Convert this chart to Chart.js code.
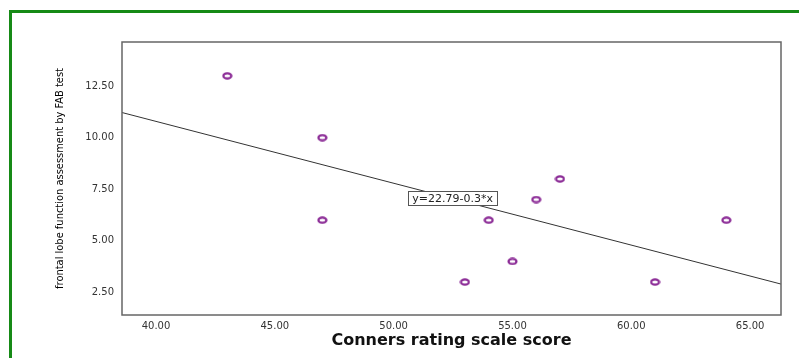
<!DOCTYPE html>
<html>
<head>
<meta charset="utf-8">
<script src="https://cdn.jsdelivr.net/npm/chart.js@4/dist/chart.umd.min.js"></script>
<style>
  html, body { margin: 0; padding: 0; background: #fff; }
  #wrap { position: relative; width: 799px; height: 358px; overflow: hidden; }
  #frame { position: absolute; left: 9px; top: 10px; width: 820px; height: 400px; border: 3px solid #168a16; }
  canvas { position: absolute; left: 0; top: 0; }
</style>
</head>
<body>
<div id="wrap">
  <div id="frame"></div>
  <canvas id="plot" width="799" height="358"></canvas>
</div>
<script>
// Conners score vs FAB score
const connersScore = [43, 47, 47, 53, 54, 55, 56, 57, 61, 64]
const fabScore = [13, 10, 6, 3, 6, 4, 7, 8, 3, 6]
const yTicks = [2.5, 5, 7.5, 10, 12.5]
const xTicks = [40, 45, 50, 55, 60, 65]
const fitIntercept = 22.79
const fitSlope = -0.3
const fitLabel = 'y=22.79-0.3*x'
const xMin = 38.57, xMax = 66.3
const yMin = 1.4, yMax = 14.64

const points = connersScore.map((x, i) => ({ x: x, y: fabScore[i] }))
const fitLine = [xMin, xMax].map(x => ({ x: x, y: fitIntercept + fitSlope * x }))

// flat ring marker like the SPSS one
const ring = document.createElement('canvas')
ring.width = 11
ring.height = 8
const rc = ring.getContext('2d')
rc.strokeStyle = '#8b2b96'
rc.lineWidth = 2.2
rc.beginPath()
rc.ellipse(5.5, 4, 4, 2.6, 0, 0, Math.PI * 2)
rc.stroke()

// draws the equation box and the plot frame
const extras = {
    id: 'extras',
    afterDatasetsDraw(chart) {
        const c = chart.ctx
        const a = chart.chartArea
        const xs = chart.scales.x, ys = chart.scales.y
        c.save()
        c.strokeStyle = '#666'
        c.lineWidth = 1.5
        c.strokeRect(a.left, a.top, a.right - a.left, a.bottom - a.top)

        const px = xs.getPixelForValue(52.46)
        const py = ys.getPixelForValue(7.06)
        c.font = '11px "DejaVu Sans", sans-serif'
        const w = c.measureText(fitLabel).width + 8
        c.fillStyle = '#fff'
        c.fillRect(px - w / 2, py - 7, w, 14)
        c.strokeStyle = '#555'
        c.lineWidth = 1
        c.strokeRect(Math.round(px - w / 2) + 0.5, Math.round(py - 7) + 0.5, Math.round(w), 14)
        c.fillStyle = '#222'
        c.textAlign = 'center'
        c.textBaseline = 'middle'
        c.fillText(fitLabel, px + 0.5, py + 0.5)
        c.restore()
    }
}

new Chart(document.getElementById('plot'), {
    type: 'scatter',
    data: {
        datasets: [
            {
                type: 'line',
                data: fitLine,
                borderColor: '#333',
                borderWidth: 1,
                pointRadius: 0,
                fill: false,
                order: 2
            },
            {
                data: points,
                pointStyle: ring,
                pointRadius: 4,
                order: 1
            }
        ]
    },
    options: {
        responsive: false,
        animation: false,
        layout: { padding: { top: 42, right: 18, left: 0, bottom: 0 } },
        plugins: { legend: { display: false }, tooltip: { enabled: false } },
        scales: {
            x: {
                type: 'linear',
                min: xMin,
                max: xMax,
                afterBuildTicks: s => { s.ticks = xTicks.map(v => ({ value: v })) },
                grid: { display: false, drawTicks: true, tickLength: 5, tickColor: '#444' },
                border: { display: false },
                ticks: {
                    color: '#333',
                    font: { size: 10, family: '"DejaVu Sans", sans-serif' },
                    padding: 0,
                    maxRotation: 0,
                    callback: v => v.toFixed(2)
                },
                title: {
                    display: true,
                    text: 'Conners rating scale score',
                    color: '#111',
                    font: { size: 16, weight: 'bold', family: '"DejaVu Sans", sans-serif' },
                    padding: { top: 0, bottom: 8 }
                },
                afterFit: s => { s.height = 358 - 315 }
            },
            y: {
                type: 'linear',
                min: yMin,
                max: yMax,
                afterBuildTicks: s => { s.ticks = yTicks.map(v => ({ value: v })) },
                grid: { display: false, drawTicks: true, tickLength: 5, tickColor: '#444' },
                border: { display: false },
                ticks: {
                    color: '#333',
                    font: { size: 10, family: '"DejaVu Sans", sans-serif' },
                    padding: 3,
                    callback: v => v.toFixed(2)
                },
                title: {
                    display: true,
                    text: 'frontal lobe function assessment by FAB test',
                    color: '#000',
                    font: { size: 11, family: '"DejaVu Sans Condensed", sans-serif' },
                    padding: { top: 54, bottom: 0 }
                },
                afterFit: s => { s.width = 122 }
            }
        }
    },
    plugins: [extras]
})
</script>
</body>
</html>
